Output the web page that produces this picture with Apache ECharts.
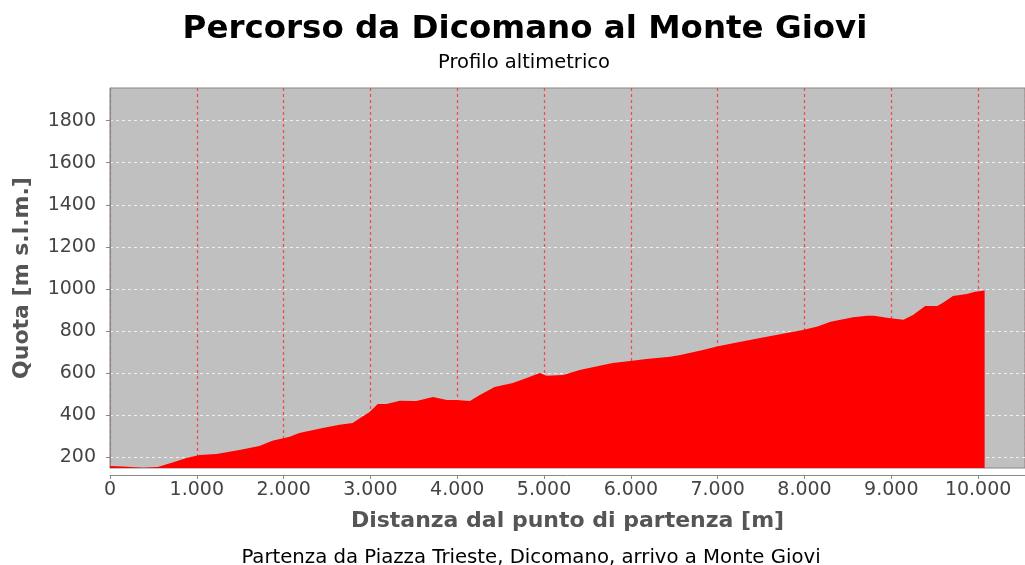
<!DOCTYPE html>
<html>
<head>
<meta charset="utf-8">
<script src="https://cdn.jsdelivr.net/npm/echarts@6/dist/echarts.min.js"></script>
<style>
  html, body { margin: 0; padding: 0; background: #fff; }
  #chart { width: 1025px; height: 565px; }
</style>
</head>
<body>
<div id="chart"></div>
<script>
  const distanze = [0, 150, 375, 550, 720, 880, 1030, 1225, 1490, 1720, 1870, 2070, 2180, 2450, 2645, 2795, 2900, 2990, 3085, 3185, 3340, 3530, 3720, 3880, 3990, 4145, 4260, 4430, 4640, 4800, 4950, 5030, 5220, 5410, 5790, 5990, 6180, 6450, 6570, 6830, 6990, 7220, 7610, 7980, 8150, 8300, 8560, 8720, 8800, 8990, 9140, 9250, 9390, 9530, 9600, 9710, 9870, 9965, 10075];
  const quote = [158, 156, 150, 154, 175, 197, 211, 216, 235, 254, 279, 298, 315, 339, 354, 363, 391, 415, 453, 453, 469, 468, 487, 472, 472, 468, 496, 534, 553, 577, 601, 587, 591, 615, 648, 657, 667, 678, 686, 710, 726, 745, 776, 805, 821, 844, 865, 873, 873, 861, 853, 876, 919, 919, 935, 967, 976, 987, 992];
  const tickQuota = [200, 400, 600, 800, 1000, 1200, 1400, 1600, 1800];

  const chart = echarts.init(document.getElementById('chart'));
  const font = 'DejaVu Sans';

  const option = {
    animation: false,
    title: [
      {
        text: 'Percorso da Dicomano al Monte Giovi',
        left: 520,
        textAlign: 'center',
        top: 8,
        textStyle: { fontFamily: font, fontSize: 32.5, fontWeight: 'bold', color: '#000' },
      },
      {
        text: 'Profilo altimetrico',
        left: 519,
        textAlign: 'center',
        top: 48,
        textStyle: { fontFamily: font, fontSize: 19.5, fontWeight: 'normal', color: '#000' },
      },
      {
        text: 'Partenza da Piazza Trieste, Dicomano, arrivo a Monte Giovi',
        left: 526,
        textAlign: 'center',
        top: 543,
        textStyle: { fontFamily: font, fontSize: 19.7, fontWeight: 'normal', color: '#000' },
      },
    ],
    grid: {
      left: 110,
      right: 0,
      top: 88,
      bottom: 97,
      show: true,
      backgroundColor: '#c0c0c0',
      borderColor: '#888',
      borderWidth: 1,
    },
    xAxis: {
      type: 'value',
      min: 0,
      max: 10540,
      interval: 1000,
      offset: 7,
      name: 'Distanza dal punto di partenza [m]',
      nameLocation: 'middle',
      nameGap: 35,
      nameTextStyle: { fontFamily: font, fontSize: 22, fontWeight: 'bold', color: '#555' },
      axisLine: { onZero: false, lineStyle: { color: '#888', width: 1 } },
      axisTick: { length: 4, lineStyle: { color: '#888' } },
      axisLabel: {
        fontFamily: font,
        fontSize: 19,
        color: '#444',
        margin: 6,
        showMaxLabel: false,
        formatter: (v) => v.toString().replace(/\B(?=(\d{3})+(?!\d))/g, '.'),
      },
      splitLine: { show: true, lineStyle: { color: '#ff3030', width: 1.2, opacity: 0.85, type: [3, 3] } },
    },
    yAxis: {
      type: 'value',
      min: 149,
      max: 1955,
      offset: 5,
      name: 'Quota [m s.l.m.]',
      nameLocation: 'middle',
      nameGap: 72,
      nameTextStyle: { fontFamily: font, fontSize: 22, fontWeight: 'bold', color: '#555' },
      axisLine: { show: true, lineStyle: { color: '#888', width: 1 } },
      axisTick: { show: true, length: 4, lineStyle: { color: '#888' }, customValues: tickQuota },
      axisLabel: {
        fontFamily: font,
        fontSize: 19,
        color: '#444',
        margin: 9,
        customValues: tickQuota,
        formatter: (v) => String(v),
      },
      splitLine: { show: true, lineStyle: { color: '#eeeeee', width: 1, type: [3, 3] }, customValues: tickQuota },
    },
    series: [
      {
        type: 'line',
        data: distanze.map((d, i) => [d, quote[i]]),
        showSymbol: false,
        lineStyle: { width: 0 },
        itemStyle: { color: '#ff0000' },
        areaStyle: { color: '#ff0000', opacity: 1, origin: 'start' },
      },
    ],
  };

  chart.setOption(option);
</script>
</body>
</html>
